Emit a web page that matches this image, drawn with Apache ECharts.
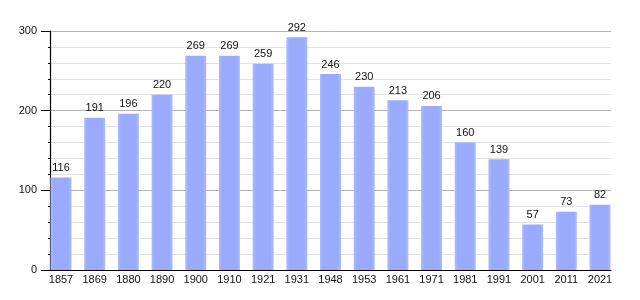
<!DOCTYPE html>
<html><head><meta charset="utf-8">
<script src="https://cdn.jsdelivr.net/npm/echarts@6/dist/echarts.min.js"></script>
<style>html,body{margin:0;padding:0;background:#fff}#c{width:640px;height:300px}</style>
</head><body><div id="c"></div>
<script>
const years = ['1857','1869','1880','1890','1900','1910','1921','1931','1948','1953','1961','1971','1981','1991','2001','2011','2021'];
const population = [116,191,196,220,269,269,259,292,246,230,213,206,160,139,57,73,82];
const yMin = 0, yMax = 300, yStep = 100;

const chart = echarts.init(document.getElementById('c'));
const font = 'Liberation Sans, Arial, sans-serif';
chart.setOption({
  animation: false,
  grid: [
    {left: 50, right: 29, top: 31, bottom: 30},
    {left: 61, right: 40, top: 31, bottom: 30}
  ],
  xAxis: [
    {gridIndex: 0, type: 'value', min: 0, max: 1, axisLine: {show: true, onZero: false, lineStyle: {color: '#000', width: 1.2}}, axisTick: {show: false}, axisLabel: {show: false}, splitLine: {show: false}},
    {gridIndex: 1, type: 'category', data: years, boundaryGap: false, axisLine: {show: false}, axisTick: {show: false},
     axisLabel: {color: '#111', fontSize: 11, fontFamily: font, margin: 4, interval: 0}, splitLine: {show: false}}
  ],
  yAxis: [
    {gridIndex: 0, type: 'value', min: yMin, max: yMax, interval: yStep,
     axisLine: {show: true, lineStyle: {color: '#000', width: 1.2}},
     axisTick: {show: true, length: 9, lineStyle: {color: '#000'}},
     minorTick: {show: true, splitNumber: 5, length: 2, lineStyle: {color: '#000'}},
     axisLabel: {color: '#111', fontSize: 11, fontFamily: font, margin: 13},
     splitLine: {show: true, lineStyle: {color: '#b4b4b4', width: 1}},
     minorSplitLine: {show: true, lineStyle: {color: '#e2e2e2', width: 1}}},
    {gridIndex: 1, type: 'value', min: yMin, max: yMax, show: false, splitLine: {show: false}}
  ],
  series: [{
    type: 'bar', xAxisIndex: 1, yAxisIndex: 1, data: population, barWidth: 21,
    itemStyle: {color: new echarts.graphic.LinearGradient(0, 0, 1, 0, [
      {offset: 0, color: '#aebbff'}, {offset: 0.15, color: '#9aabfd'},
      {offset: 0.85, color: '#9aabfd'}, {offset: 1, color: '#aebbff'}])},
    label: {show: true, position: 'top', distance: 4, color: '#111', fontSize: 11, fontFamily: font}
  }]
});
</script></body></html>
